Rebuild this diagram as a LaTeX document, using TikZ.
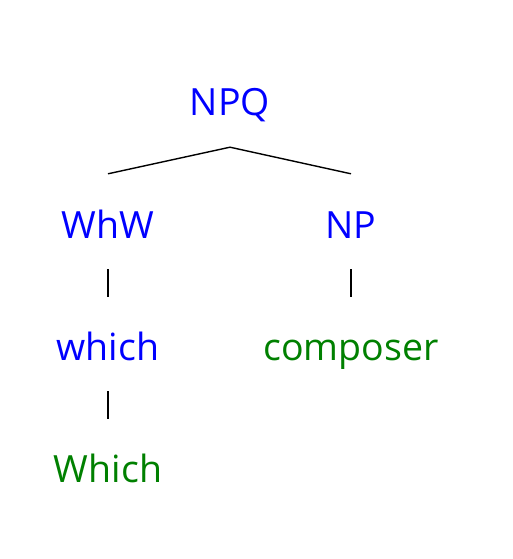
\documentclass[tikz,border=0pt]{standalone}
\usepackage{fontspec}
\setmainfont{Open Sans}
\definecolor{catblue}{RGB}{0,0,255}
\definecolor{wordgreen}{RGB}{0,128,0}
\begin{document}
\begin{tikzpicture}[x=1pt,y=-1pt,
  lbl/.style={anchor=base,inner sep=0pt,text height=26pt,text depth=8pt,font=\fontsize{37.5}{40}\selectfont},
  cat/.style={lbl,text=catblue},
  word/.style={lbl,text=wordgreen},
  edge/.style={draw=black,line width=1.4pt}]
\useasboundingbox (0,0) rectangle (513,559);
\node[cat] (npq) at (230,116) {NPQ};
\node[cat] (whw) at (108,238) {WhW};
\node[cat] (np) at (351,238) {NP};
\node[cat] (which) at (108,360) {which};
\node[word] (composer) at (351,360) {composer};
\node[word] (Which) at (108,482) {Which};
\draw[edge] ([yshift=38pt]whw.north) -- ([yshift=-23pt]npq.south) -- ([yshift=38pt]np.north);
\draw[edge] ([yshift=-23pt]whw.south) -- ([yshift=37pt]which.north);
\draw[edge] ([yshift=-23pt]np.south) -- ([yshift=37pt]composer.north);
\draw[edge] ([yshift=-23pt]which.south) -- ([yshift=37pt]Which.north);
\end{tikzpicture}
\end{document}
